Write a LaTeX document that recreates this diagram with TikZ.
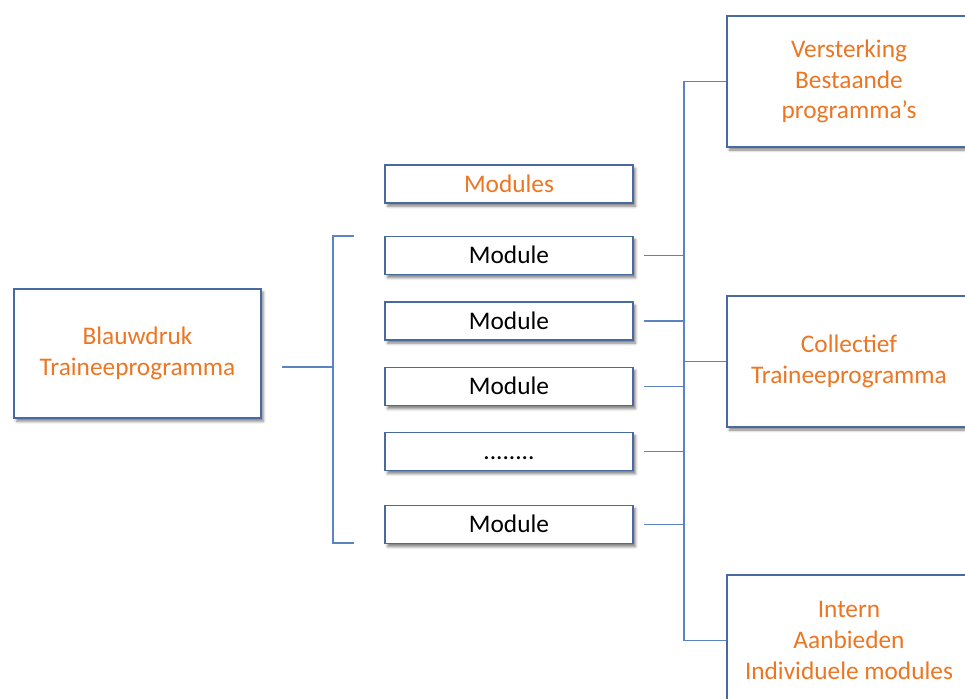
\documentclass[tikz,border=0pt]{standalone}
\usepackage{fontspec}
\setmainfont{Carlito}
\usetikzlibrary{shadows.blur}
\definecolor{boxblue}{RGB}{72,106,160}
\definecolor{lineblue}{RGB}{92,132,196}
\definecolor{txtorange}{RGB}{236,118,34}
\begin{document}
\begin{tikzpicture}
  [x=.75pt,y=-.75pt,every node/.style={rectangle,draw=boxblue,line width=1.3pt,fill=white,align=center,inner sep=0pt,
   font=\fontsize{19}{23}\selectfont,blur shadow={shadow xshift=1.8pt,shadow yshift=-2.4pt,shadow blur radius=2pt,shadow opacity=50}}]
  \tikzstyle{module} = [minimum width=186pt,minimum height=28.5pt,text height=14pt,text depth=2pt]
  \tikzstyle{goal} = [minimum width=183pt,minimum height=98pt,text=txtorange]
  \tikzstyle{link} = [draw=lineblue,line width=1.2pt]
  \clip (0,0) rectangle (965,699);
  \node[text=txtorange,minimum width=185pt,minimum height=97pt] (n0) at (137.5,353.5) {Blauwdruk\\Traineeprogramma};
  \node[module,text=txtorange] (head) at (509,184) {Modules};
  \node[module] (m1) at (509,255.5) {Module};
  \node[module] (m2) at (509,321)   {Module};
  \node[module] (m3) at (509,386.5) {Module};
  \node[module] (m4) at (509,451.5) {........};
  \node[module] (m5) at (509,524.5) {Module};
  \node[goal] (g1) at (849,81.5)  {Versterking\\Bestaande\\programma's};
  \node[goal] (g2) at (849,361.5) {Collectief\\Traineeprogramma};
  \node[goal] (g3) at (849,640.5) {Intern\\Aanbieden\\Individuele modules};
  % bracket
  \coordinate (bs) at (282,367);
  \coordinate (bk) at (333,367);
  \coordinate (bt) at (354,236);
  \coordinate (bb) at (354,543);
  \draw[link] (bt) -| (bk) |- (bb);
  \draw[link] (bs) -- (bk);
  % spine
  \coordinate (sp) at (684,0);
  \foreach \m in {m1,m2,m3,m4,m5}
   \draw[link] ([xshift=7.5pt]\m.east) -- (\m.east -| sp);
  \foreach \g in {g1,g2,g3}
   \draw[link] (\g.west) -- (\g.west -| sp);
  \draw[link] (g1.west -| sp) -- (g3.west -| sp);
\end{tikzpicture}
\end{document}
